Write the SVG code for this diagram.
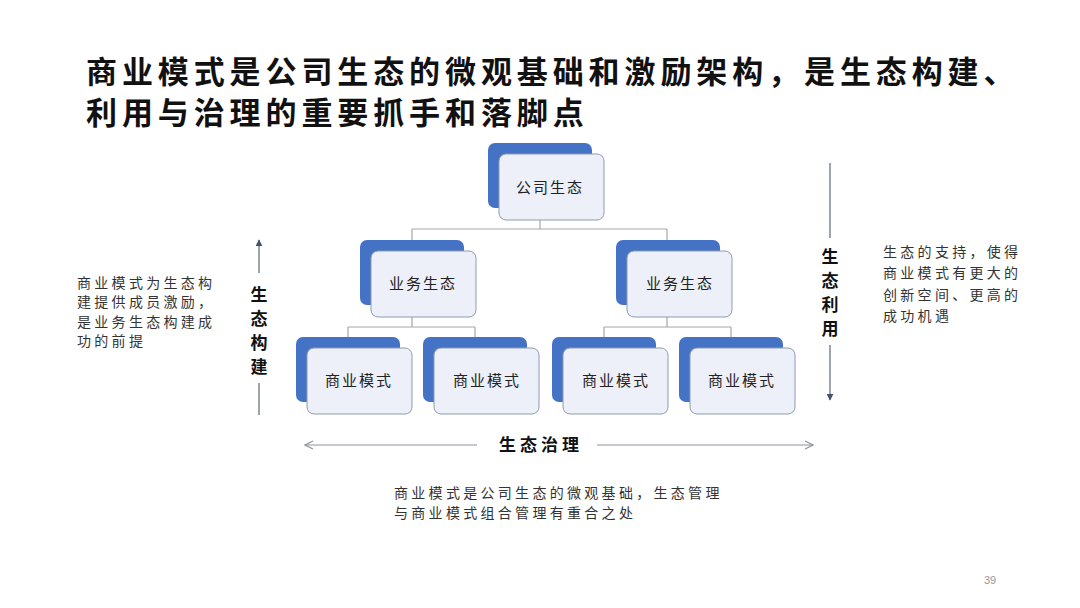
<svg xmlns="http://www.w3.org/2000/svg" width="1080" height="608" viewBox="0 0 1080 608">
<defs>
<style>
.t{font-family:"Noto Sans CJK SC","Noto Sans",sans-serif;fill:#222}
.title{font-size:31px;font-weight:700;letter-spacing:4.9px;fill:#111}
.lbl{font-size:15px;letter-spacing:2px}
.side{font-size:14px;letter-spacing:3.3px;fill:#333}
.vl{font-size:17px;font-weight:700;text-anchor:middle;fill:#111}
.back{fill:#4472c4}
.front{fill:#edf0f8;stroke:#8e9bb0;stroke-width:1}
.conn{fill:none;stroke:#a6a6a6;stroke-width:1.2}
.ax{fill:none;stroke:#5d6878;stroke-width:1.2}
</style>
<marker id="tri" viewBox="0 0 10 10" refX="9" refY="5" markerWidth="7" markerHeight="7" orient="auto" markerUnits="userSpaceOnUse">
<path d="M0,0 L10,5 L0,10 Z" fill="#44546a"/>
</marker>
<marker id="chev" viewBox="0 0 10 10" refX="9" refY="5" markerWidth="10" markerHeight="10" orient="auto" markerUnits="userSpaceOnUse">
<path d="M1,1 L9,5 L1,9" fill="none" stroke="#8c949e" stroke-width="1.2"/>
</marker>
</defs>
<rect width="1080" height="608" fill="#fff"/>

<g id="title">
<text class="t title" x="86" y="83">商业模式是公司生态的微观基础和激励架构，是生态构建、</text>
<text class="t title" x="86" y="124">利用与治理的重要抓手和落脚点</text>
</g>

<g id="connectors">
<path class="conn" d="M540,218 V229 M412,229 H667 M412,229 V240 M667,229 V240"/>
<path class="conn" d="M412,317 V327 M348,327 H475 M348,327 V337 M475,327 V337"/>
<path class="conn" d="M667,317 V327 M604,327 H731 M604,327 V337 M731,327 V337"/>
<line class="ax" x1="259" y1="273" x2="259" y2="240" marker-end="url(#tri)"/>
<line class="ax" x1="259" y1="383" x2="259" y2="415"/>
<line class="ax" x1="830" y1="163" x2="830" y2="238"/>
<line class="ax" x1="830" y1="345" x2="830" y2="400" marker-end="url(#tri)"/>
<line x1="477" y1="445" x2="305" y2="445" stroke="#8c949e" stroke-width="1.2" marker-end="url(#chev)"/>
<line x1="597" y1="445" x2="813" y2="445" stroke="#8c949e" stroke-width="1.2" marker-end="url(#chev)"/>
</g>

<g id="node-company">
<rect class="back" x="488" y="143" width="104" height="65" rx="7"/>
<rect class="front" x="499" y="154" width="105" height="66" rx="7"/>
<text class="t lbl" x="516" y="193">公司生态</text>
</g>
<g id="node-biz-left">
<rect class="back" x="360" y="240" width="104" height="65" rx="7"/>
<rect class="front" x="371" y="251" width="105" height="66" rx="7"/>
<text class="t lbl" x="389" y="289">业务生态</text>
</g>
<g id="node-biz-right">
<rect class="back" x="616" y="240" width="104" height="65" rx="7"/>
<rect class="front" x="627" y="251" width="105" height="66" rx="7"/>
<text class="t lbl" x="646" y="289">业务生态</text>
</g>
<g id="node-bm-1">
<rect class="back" x="296" y="337" width="104" height="65" rx="7"/>
<rect class="front" x="307" y="348" width="105" height="66" rx="7"/>
<text class="t lbl" x="325" y="386">商业模式</text>
</g>
<g id="node-bm-2">
<rect class="back" x="423" y="337" width="104" height="65" rx="7"/>
<rect class="front" x="434" y="348" width="105" height="66" rx="7"/>
<text class="t lbl" x="453" y="386">商业模式</text>
</g>
<g id="node-bm-3">
<rect class="back" x="552" y="337" width="104" height="65" rx="7"/>
<rect class="front" x="563" y="348" width="105" height="66" rx="7"/>
<text class="t lbl" x="582" y="386">商业模式</text>
</g>
<g id="node-bm-4">
<rect class="back" x="679" y="337" width="104" height="65" rx="7"/>
<rect class="front" x="690" y="348" width="105" height="66" rx="7"/>
<text class="t lbl" x="708" y="386">商业模式</text>
</g>

<g id="label-build">
<text class="t vl" x="259" y="301">生</text>
<text class="t vl" x="259" y="325">态</text>
<text class="t vl" x="259" y="349">构</text>
<text class="t vl" x="259" y="373">建</text>
</g>
<g id="label-use">
<text class="t vl" x="830" y="263">生</text>
<text class="t vl" x="830" y="287">态</text>
<text class="t vl" x="830" y="311">利</text>
<text class="t vl" x="830" y="335">用</text>
</g>
<g id="label-govern">
<text class="t" x="499" y="451" style="font-size:17px;font-weight:700;letter-spacing:4px;fill:#111">生态治理</text>
</g>

<g id="note-left">
<text class="t side" x="77" y="288">商业模式为生态构</text>
<text class="t side" x="77" y="307">建提供成员激励，</text>
<text class="t side" x="77" y="327">是业务生态构建成</text>
<text class="t side" x="77" y="346">功的前提</text>
</g>
<g id="note-right">
<text class="t side" x="883" y="257">生态的支持，使得</text>
<text class="t side" x="883" y="278">商业模式有更大的</text>
<text class="t side" x="883" y="300">创新空间、更高的</text>
<text class="t side" x="883" y="321">成功机遇</text>
</g>
<g id="note-bottom">
<text class="t side" x="394" y="498">商业模式是公司生态的微观基础，生态管理</text>
<text class="t side" x="394" y="518">与商业模式组合管理有重合之处</text>
</g>
<text x="984" y="584" style="font-family:'Liberation Sans',sans-serif;font-size:11px;fill:#999">39</text>
</svg>
